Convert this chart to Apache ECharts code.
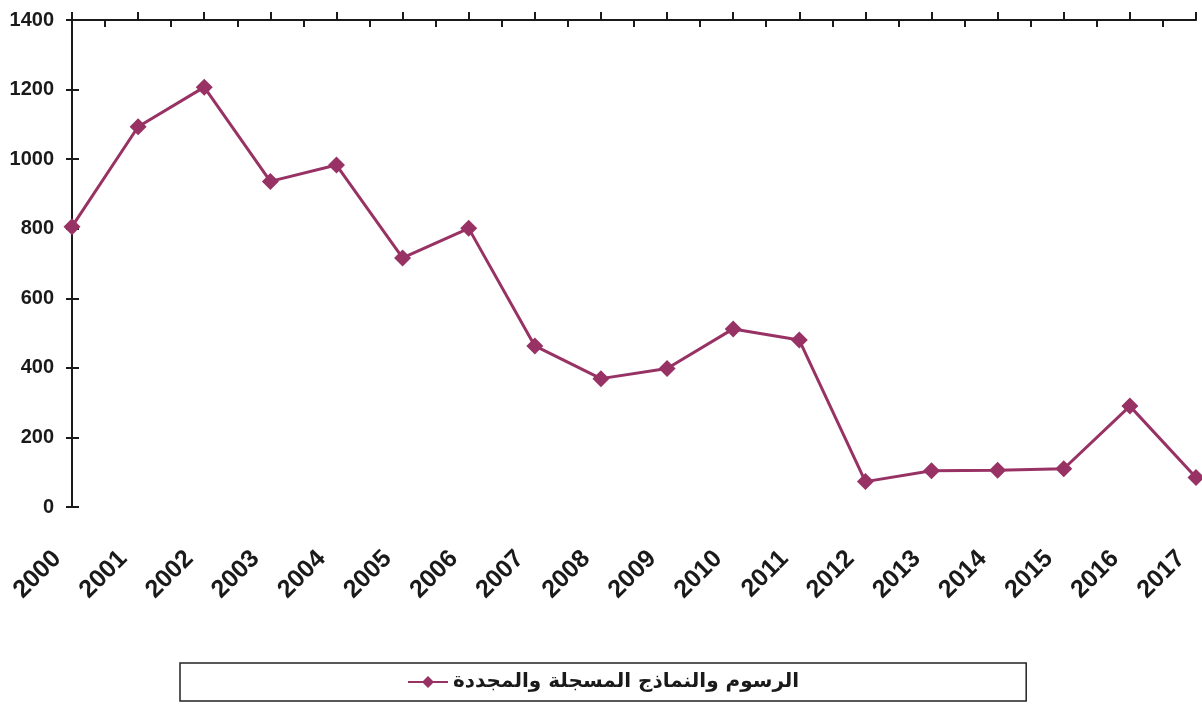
<!DOCTYPE html>
<html>
<head>
<meta charset="utf-8">
<script src="https://cdn.jsdelivr.net/npm/echarts@6/dist/echarts.min.js"></script>
<style>
  html, body { margin: 0; padding: 0; background: #fff; }
  #chart { width: 1202px; height: 705px; }
</style>
</head>
<body>
<div id="chart"></div>
<script>
const years = ["2000", "2001", "2002", "2003", "2004", "2005", "2006", "2007", "2008",
  "2009", "2010", "2011", "2012", "2013", "2014", "2015", "2016", "2017"];
const designs = [806, 1093, 1207, 936, 983, 716, 801, 463, 369, 398, 512, 480, 73, 104, 106, 110, 290, 85];
const seriesName = "الرسوم والنماذج المسجلة والمجددة";
const yTicks = { min: 0, max: 1400, interval: 200 };

// half steps, used only to put the small inner ticks between the years
const halfSteps = [];
years.forEach((y, i) => {
  halfSteps.push(y);
  if (i < years.length - 1) halfSteps.push(y + "+");
});

const chart = echarts.init(document.getElementById("chart"));
const ink = "#1a1a1a";
const lineColor = "#983264";

const options = {
  animation: false,
  backgroundColor: "#ffffff",
  grid: { left: 72, right: 6, top: 20, bottom: 198, containLabel: false },
  legend: {
    data: [seriesName],
    left: 180,
    top: 663,
    padding: [9, 227, 9, 227],
    borderColor: "#222",
    borderWidth: 1.5,
    itemWidth: 40,
    itemHeight: 15,
    itemGap: 6,
    textStyle: { fontFamily: "DejaVu Sans", fontWeight: "bold", fontSize: 20, color: ink },
  },
  xAxis: [
    {
      // labels along the bottom
      type: "category",
      data: years,
      position: "bottom",
      boundaryGap: false,
      axisLine: { show: false, onZero: false },
      axisTick: { show: false },
      axisLabel: {
        interval: 0,
        rotate: 45,
        margin: 33,
        padding: [0, 21, 0, 0],
        fontFamily: "Liberation Sans",
        fontWeight: "bold",
        fontSize: 25,
        color: ink,
      },
    },
    {
      // top line with outer ticks at each year
      type: "category",
      data: years,
      position: "top",
      boundaryGap: false,
      axisLine: { show: true, onZero: false, lineStyle: { color: ink, width: 2 } },
      axisTick: { show: true, interval: 0, inside: false, length: 8, lineStyle: { color: ink, width: 2 } },
      axisLabel: { show: false },
    },
    {
      // inner ticks halfway between years
      type: "category",
      data: halfSteps,
      position: "top",
      boundaryGap: false,
      axisLine: { show: false, onZero: false },
      axisTick: {
        show: true,
        inside: true,
        length: 7,
        interval: (i) => i % 2 === 1,
        lineStyle: { color: ink, width: 2 },
      },
      axisLabel: { show: false },
    },
  ],
  yAxis: [
    {
      type: "value",
      position: "left",
      min: yTicks.min,
      max: yTicks.max,
      interval: yTicks.interval,
      axisLine: { show: true, onZero: false, lineStyle: { color: ink, width: 2 } },
      axisTick: { show: true, inside: false, length: 6, lineStyle: { color: ink, width: 2 } },
      splitLine: { show: false },
      axisLabel: {
        margin: 18,
        formatter: (v) => String(v),
        fontFamily: "Liberation Sans",
        fontWeight: "bold",
        fontSize: 20,
        color: ink,
      },
    },
    {
      // inner half of the crossing ticks
      type: "value",
      position: "left",
      min: yTicks.min,
      max: yTicks.max,
      interval: yTicks.interval,
      axisLine: { show: false, onZero: false },
      axisTick: { show: true, inside: true, length: 7, lineStyle: { color: ink, width: 2 } },
      splitLine: { show: false },
      axisLabel: { show: false },
    },
  ],
  series: [
    {
      name: seriesName,
      type: "line",
      xAxisIndex: 0,
      yAxisIndex: 0,
      data: designs,
      symbol: "diamond",
      symbolSize: 17,
      lineStyle: { color: lineColor, width: 3 },
      itemStyle: { color: lineColor },
      clip: false,
    },
  ],
};

chart.setOption(options);
</script>
</body>
</html>
